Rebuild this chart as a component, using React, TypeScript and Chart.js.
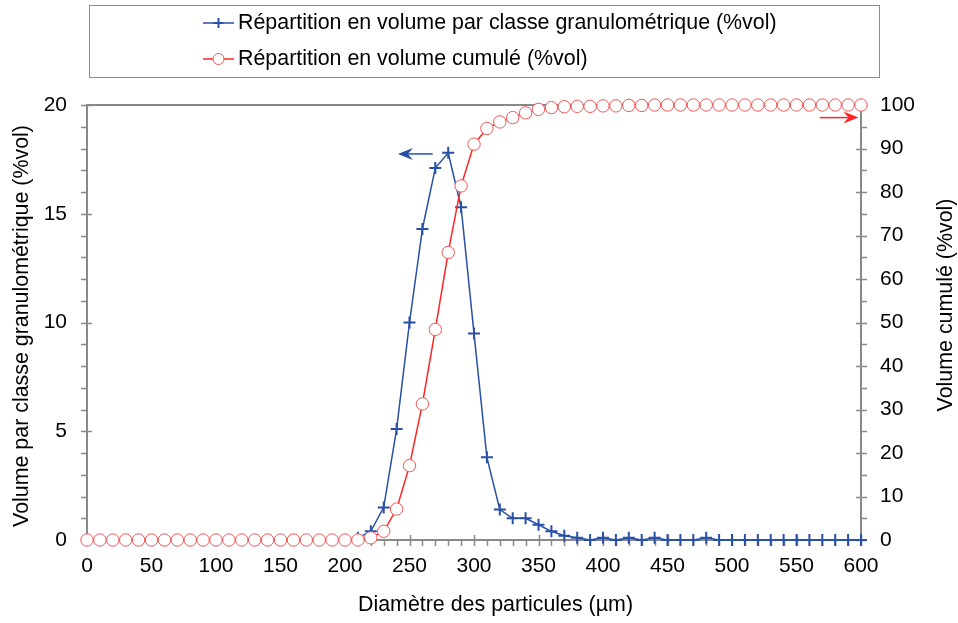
import React, { useEffect, useRef } from "react";
import { Chart, registerables } from "chart.js";

Chart.register(...registerables);

// ---- Data ----
const diameters = [
  0, 10, 20, 30, 40, 50, 60, 70, 80, 90, 100, 110, 120, 130, 140, 150, 160, 170, 180, 190, 200,
  210, 220, 230, 240, 250, 260, 270, 280, 290, 300, 310, 320, 330, 340, 350, 360, 370, 380, 390, 400,
  410, 420, 430, 440, 450, 460, 470, 480, 490, 500, 510, 520, 530, 540, 550, 560, 570, 580, 590, 600,
];

const volumeParClasse = [
  0, 0, 0, 0, 0, 0, 0, 0, 0, 0, 0, 0, 0, 0, 0, 0, 0, 0, 0, 0, 0,
  0.1, 0.4, 1.5, 5.1, 10.0, 14.3, 17.1, 17.8, 15.3, 9.5, 3.8, 1.4, 1.0, 1.0, 0.7, 0.4, 0.2, 0.1, 0, 0.1,
  0, 0.1, 0, 0.1, 0, 0, 0, 0.1, 0, 0, 0, 0, 0, 0, 0, 0, 0, 0, 0, 0,
];

const volumeCumule = [
  0, 0, 0, 0, 0, 0, 0, 0, 0, 0, 0, 0, 0, 0, 0, 0, 0, 0, 0, 0, 0,
  0, 0.5, 2.0, 7.1, 17.1, 31.3, 48.4, 66.1, 81.4, 91.0, 94.6, 96.1, 97.1, 98.2, 99.0, 99.4, 99.6, 99.7, 99.7, 99.8,
  99.8, 99.9, 99.9, 100, 100, 100, 100, 100, 100, 100, 100, 100, 100, 100, 100, 100, 100, 100, 100, 100,
];

const seriesLabels = [
  "Répartition en volume par classe granulométrique (%vol)",
  "Répartition en volume cumulé (%vol)",
];
const xTitle = "Diamètre des particules (µm)";
const yLeftTitle = "Volume par classe granulométrique (%vol)";
const yRightTitle = "Volume cumulé (%vol)";

// ---- Styles ----
const BLUE = "#2850A5";
const RED = "#FF2424";
const RED_MARK = "#F25555";
const AXIS = "#898989";
const FONT = '"Liberation Sans", Arial, sans-serif';
const FS = 21;
const TFS = 21.4;

function drawArrow(ctx: CanvasRenderingContext2D, x0: number, y0: number, x1: number, y1: number, color: string) {
  const dir = Math.sign(x1 - x0) || 1;
  const head = 15;
  const half = 6;
  const notch = 10;
  ctx.save();
  ctx.strokeStyle = color;
  ctx.fillStyle = color;
  ctx.lineWidth = 1.5;
  ctx.beginPath();
  ctx.moveTo(x0, y0);
  ctx.lineTo(x1 - dir * notch, y1);
  ctx.stroke();
  ctx.beginPath();
  ctx.moveTo(x1, y1);
  ctx.lineTo(x1 - dir * head, y1 - half);
  ctx.lineTo(x1 - dir * notch, y1);
  ctx.lineTo(x1 - dir * head, y1 + half);
  ctx.closePath();
  ctx.fill();
  ctx.restore();
}

function drawText(ctx: CanvasRenderingContext2D, text: string, x: number, y: number, rot: number) {
  ctx.save();
  ctx.font = `${TFS}px ${FONT}`;
  ctx.fillStyle = "#000";
  ctx.textAlign = "center";
  ctx.textBaseline = "middle";
  ctx.translate(x, y);
  ctx.rotate(rot);
  ctx.fillText(text, 0, 0);
  ctx.restore();
}

const decorPlugin = {
  id: "decor",
  beforeDatasetsDraw(chart: any) {
    const { ctx, chartArea: a, scales } = chart;
    const xs = scales.x;
    const yl = scales.y;
    const yr = scales.y1;
    ctx.save();
    ctx.strokeStyle = AXIS;
    // top border
    ctx.lineWidth = 2;
    ctx.beginPath();
    ctx.moveTo(a.left - 1, a.top);
    ctx.lineTo(a.right + 1, a.top);
    ctx.stroke();
    ctx.lineWidth = 1.5;
    ctx.beginPath();
    // x ticks (minor every 10, major every 50)
    for (let v = 0; v <= 600; v += 10) {
      const px = Math.round(xs.getPixelForValue(v)) + 0.5;
      const major = v % 50 === 0;
      ctx.moveTo(px, a.bottom + (major ? -5 : 0));
      ctx.lineTo(px, a.bottom + 6);
    }
    // left ticks (minor every 1, major every 5)
    for (let v = 0; v <= 20; v += 1) {
      const py = Math.round(yl.getPixelForValue(v)) + 0.5;
      const major = v % 5 === 0;
      ctx.moveTo(a.left - 6, py);
      ctx.lineTo(a.left + (major ? 5 : 0), py);
    }
    // right ticks (minor every 5, major every 10)
    for (let v = 0; v <= 100; v += 5) {
      const py = Math.round(yr.getPixelForValue(v)) + 0.5;
      const major = v % 10 === 0;
      ctx.moveTo(a.right + 6, py);
      ctx.lineTo(a.right - (major ? 5 : 0), py);
    }
    ctx.stroke();
    ctx.restore();
  },
  afterDraw(chart: any) {
    const { ctx, scales } = chart;
    const xs = scales.x;
    const yl = scales.y;
    const yr = scales.y1;
    // arrows
    drawArrow(ctx, xs.getPixelForValue(268), yl.getPixelForValue(17.75), xs.getPixelForValue(241), yl.getPixelForValue(17.75), BLUE);
    drawArrow(ctx, xs.getPixelForValue(568), yr.getPixelForValue(97.1), xs.getPixelForValue(598), yr.getPixelForValue(97.1), RED);

    // axis titles
    drawText(ctx, xTitle, 495.5, 605.5, 0);
    drawText(ctx, yLeftTitle, 22.5, 326, -Math.PI / 2);
    drawText(ctx, yRightTitle, 946.5, 305, -Math.PI / 2);

    // legend
    ctx.save();
    ctx.strokeStyle = "#8c8c8c";
    ctx.lineWidth = 1;
    ctx.strokeRect(89.5, 5.5, 790, 72);
    ctx.font = `${TFS}px ${FONT}`;
    ctx.fillStyle = "#000";
    ctx.textAlign = "left";
    ctx.textBaseline = "middle";
    const rows = [23, 59];
    // blue entry
    ctx.strokeStyle = BLUE;
    ctx.lineWidth = 1.5;
    ctx.beginPath();
    ctx.moveTo(203, rows[0]);
    ctx.lineTo(234, rows[0]);
    ctx.stroke();
    ctx.lineWidth = 2;
    ctx.beginPath();
    ctx.moveTo(218.5, rows[0] - 5);
    ctx.lineTo(218.5, rows[0] + 5);
    ctx.moveTo(213.5, rows[0]);
    ctx.lineTo(223.5, rows[0]);
    ctx.stroke();
    ctx.fillText(seriesLabels[0], 238, rows[0]);
    // red entry
    ctx.strokeStyle = RED;
    ctx.lineWidth = 1.5;
    ctx.beginPath();
    ctx.moveTo(203, rows[1]);
    ctx.lineTo(234, rows[1]);
    ctx.stroke();
    ctx.beginPath();
    ctx.arc(218.5, rows[1], 5.5, 0, Math.PI * 2);
    ctx.fillStyle = "#fff";
    ctx.fill();
    ctx.strokeStyle = RED_MARK;
    ctx.lineWidth = 1;
    ctx.stroke();
    ctx.fillStyle = "#000";
    ctx.fillText(seriesLabels[1], 238, rows[1]);
    ctx.restore();
  },
};

export default function App() {
  const canvasRef = useRef<HTMLCanvasElement | null>(null);

  useEffect(() => {
    const canvas = canvasRef.current;
    if (!canvas) return;
    const blueData = diameters.map((d, i) => ({ x: d, y: volumeParClasse[i] }));
    const redData = diameters.map((d, i) => ({ x: d, y: volumeCumule[i] }));

    const tickFont = { family: FONT, size: FS };

    const chart = new Chart(canvas, {
      type: "line",
      data: {
        datasets: [
          {
            label: seriesLabels[0],
            data: blueData,
            yAxisID: "y",
            borderColor: BLUE,
            borderWidth: 1.5,
            pointStyle: "cross",
            pointRadius: 6,
            pointBorderWidth: 2,
            pointBorderColor: BLUE,
            pointBackgroundColor: BLUE,
            tension: 0,
            clip: false,
            order: 1,
          },
          {
            label: seriesLabels[1],
            data: redData,
            yAxisID: "y1",
            borderColor: RED,
            borderWidth: 1.5,
            pointStyle: "circle",
            pointRadius: 6.2,
            pointBorderWidth: 1,
            pointBorderColor: RED_MARK,
            pointBackgroundColor: "#ffffff",
            tension: 0,
            clip: false,
            order: 0,
          },
        ],
      },
      options: {
        responsive: false,
        animation: false,
        events: [],
        layout: { padding: { top: 105, left: 0, right: 0, bottom: 0 } },
        plugins: {
          legend: { display: false },
          tooltip: { enabled: false },
          title: { display: false },
        },
        scales: {
          x: {
            type: "linear",
            min: 0,
            max: 600,
            grid: { display: false },
            border: { display: true, color: AXIS, width: 2 },
            ticks: { stepSize: 50, font: tickFont, color: "#000", padding: 6, maxRotation: 0 },
            title: { display: false },
            afterFit: (s: any) => {
              s.height = 83;
            },
          },
          y: {
            type: "linear",
            position: "left",
            min: 0,
            max: 20,
            grid: { display: false },
            border: { display: true, color: AXIS, width: 2 },
            ticks: { stepSize: 5, font: tickFont, color: "#000", padding: 12 },
            title: { display: false },
            afterFit: (s: any) => {
              s.width = 87;
            },
          },
          y1: {
            type: "linear",
            position: "right",
            min: 0,
            max: 100,
            grid: { display: false },
            border: { display: true, color: AXIS, width: 2 },
            ticks: { stepSize: 10, font: tickFont, color: "#000", padding: 11 },
            title: { display: false },
            afterFit: (s: any) => {
              s.width = 97;
            },
          },
        },
      },
      plugins: [decorPlugin],
    });
    return () => chart.destroy();
  }, []);

  return (
    <div style={{ position: "absolute", left: 0, top: 0, width: 958, height: 623, background: "#fff" }}>
      <canvas ref={canvasRef} width={958} height={623} style={{ display: "block", width: 958, height: 623 }} />
    </div>
  );
}
